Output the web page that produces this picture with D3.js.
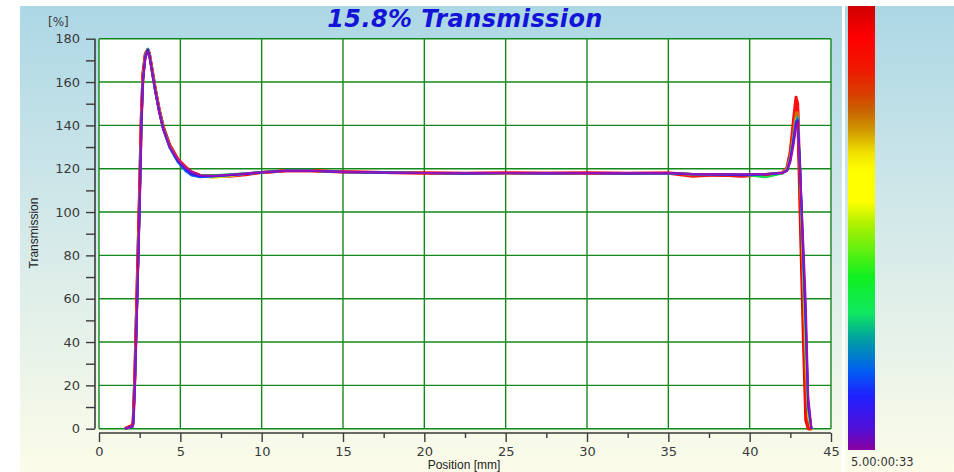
<!DOCTYPE html>
<html>
<head>
<meta charset="utf-8">
<script src="https://cdn.jsdelivr.net/npm/d3@7/dist/d3.min.js"></script>
<style>
  html, body { margin: 0; padding: 0; background: #ffffff; }
  svg { display: block; }
</style>
</head>
<body>
<svg id="chart" width="954" height="472"></svg>
<script>
// Measurement positions along the cell [mm]
const positions = [1.6, 2.05, 2.1, 2.2, 2.35, 2.5, 2.6, 2.7, 2.85, 3.0, 3.1, 3.25, 3.45, 3.7, 3.95, 4.35, 4.85, 5.3, 5.7, 6.2,
  7.0, 8.0, 9.0, 10.0, 11.5, 13.0, 15.0, 17.5, 20.0, 22.5, 25.0, 27.5, 30.0, 32.5, 35.0, 36.5, 38.0, 39.5, 41.0, 42.0,
  42.3, 42.5, 42.7, 42.85, 42.95, 43.1, 43.3, 43.45, 43.6, 43.8];

// Transmission profiles [%], one per scan, earliest first
const scan1 = [0, 1, 2, 18, 58, 102, 138, 160, 171, 174, 172, 165, 156, 146, 138, 130, 124, 120.5, 118.5, 117,
  116.8, 117.2, 117.8, 118.4, 119, 119, 118.5, 118.2, 118, 117.9, 118, 117.9, 118, 117.9, 118, 117.6, 117.5, 117.4, 117.6, 118,
  119, 123, 131, 139, 141, 120, 85, 58, 15, 0];
const scan2 = [0, 1, 2, 20, 60, 104, 140, 161, 172, 175, 172.5, 165.5, 156.5, 146.5, 138.5, 130, 123.5, 120, 117.5, 116.5,
  116.5, 117, 117.6, 118.3, 119, 119.1, 118.6, 118.2, 118, 117.8, 118, 117.8, 117.9, 117.8, 118, 117.4, 117.3, 117.2, 117.4, 118,
  119, 124, 133, 141, 142, 122, 80, 50, 12, 0];
const scan3 = [0, 1, 2, 19, 59, 103, 139, 160, 171, 174, 172, 165, 156, 146, 138, 129.5, 123, 119, 116.8, 116,
  116.4, 117, 117.6, 118.3, 119, 119, 118.4, 118.1, 118, 117.8, 117.9, 117.9, 118, 117.8, 117.9, 117.3, 117.4, 117, 117.5, 118,
  119.5, 124, 134, 142, 143, 118, 78, 48, 10, 0];
const scan4 = [0, 1, 2, 19, 59, 103, 139, 161, 172, 175, 172, 165, 156, 146.5, 138, 129.5, 123, 119.5, 117.5, 116.5,
  116.8, 117.3, 117.8, 118.5, 119, 119, 118.5, 118.2, 118, 117.9, 118, 117.9, 118, 117.9, 118, 117.6, 117.5, 117.2, 117.4, 118,
  119.5, 125, 135, 142, 144, 121, 76, 45, 10, 0];
const scan5 = [0, 1, 2, 19, 60, 104, 139, 161, 172, 175.5, 173, 166, 157, 147, 139, 130, 123.5, 120, 117.8, 117,
  117, 117.4, 117.9, 118.5, 119, 119.1, 118.5, 118.2, 118, 117.9, 118, 117.9, 118, 117.9, 118, 117.5, 117.6, 117.3, 116, 117.8,
  119, 124, 134, 141, 143, 122, 74, 40, 8, 0];
const scan6 = [0, 1, 2, 20, 61, 105, 140, 161, 172, 175, 172.5, 165.5, 156.5, 146.5, 138.5, 130, 124, 120, 118, 116.5,
  115.8, 116.5, 117.5, 118.3, 119, 119, 118.5, 118.2, 118, 117.8, 117.9, 117.8, 118, 117.8, 117.9, 117.5, 117.5, 117.3, 117.6, 118,
  120, 125, 135, 143, 144, 120, 70, 35, 6, 0];
const scan7 = [0, 1, 2, 20, 62, 106, 141, 162, 173, 175, 173, 166, 157, 147, 139, 130.5, 124, 120.5, 118.3, 117,
  116.5, 117, 117.6, 118.3, 119, 119, 118.5, 118.2, 118, 117.9, 118, 117.9, 118, 117.9, 118, 117, 117.3, 117.2, 117.5, 118,
  120, 126, 138, 146, 146, 116, 65, 25, 4, 0];
const scan8 = [0, 1.5, 3, 24, 68, 112, 144, 164, 173, 175, 173, 166.5, 157.5, 147.5, 139.5, 131, 124.5, 121, 118.5, 117,
  116.8, 116.5, 117.2, 118.3, 119, 119.1, 118.6, 118.2, 118, 117.8, 118, 117.9, 118, 117.8, 117.9, 116.5, 117.2, 116.5, 117.3, 118,
  120.5, 128, 143, 153, 150, 112, 60, 12, 0, 0];
const scan9 = [0, 1.5, 3, 23, 66, 110, 142, 163, 173, 175, 173, 166, 157, 147, 139, 130.5, 124, 120.5, 118.3, 117,
  116.8, 117, 117.6, 118.3, 119, 119, 118.5, 118.2, 118, 117.9, 118, 117.9, 118, 117.9, 118, 117.3, 117, 116.8, 117.2, 118,
  120, 127, 140, 150, 147, 100, 42, 4, 0, 0];

const scans = [scan1, scan2, scan3, scan4, scan5, scan6, scan7, scan8, scan9];
const scanColors = ["#9a10b8", "#3a10f0", "#0068f8", "#00a0a0", "#10e040", "#d8e000", "#d07000", "#ff1010", "#e00000"];

// Axis ticks
const xMajorTicks = [0, 5, 10, 15, 20, 25, 30, 35, 40, 45];
const xMinorTicks = [2.5, 7.5, 12.5, 17.5, 22.5, 27.5, 32.5, 37.5, 42.5];
const yTicks = [0, 10, 20, 30, 40, 50, 60, 70, 80, 90, 100, 110, 120, 130, 140, 150, 160, 170, 180];
const yLabelled = [0, 20, 40, 60, 80, 100, 120, 140, 160, 180];

// Time scale legend
const legendStops = [
  [0.00, "#d00000"], [0.07, "#ff0000"], [0.14, "#f01800"], [0.20, "#d84000"], [0.24, "#c86800"],
  [0.28, "#d09800"], [0.33, "#f0e000"], [0.37, "#ffff00"], [0.44, "#ffff00"], [0.49, "#b0f000"],
  [0.61, "#10f020"], [0.69, "#10e860"], [0.75, "#00a0a0"], [0.82, "#0060f0"], [0.88, "#2020ff"],
  [0.95, "#5010d8"], [1.00, "#8800a0"]
];
const legendLabel = "5.00:00:33";

const svg = d3.select("#chart");
const defs = svg.append("defs");

const bg = defs.append("linearGradient").attr("id", "panelBg")
  .attr("x1", 0).attr("y1", 0).attr("x2", 0).attr("y2", 1);
bg.append("stop").attr("offset", 0).attr("stop-color", "#acd7e5");
bg.append("stop").attr("offset", 0.5).attr("stop-color", "#d6eae9");
bg.append("stop").attr("offset", 1).attr("stop-color", "#fcfce9");

const cb = defs.append("linearGradient").attr("id", "timeScale")
  .attr("x1", 0).attr("y1", 0).attr("x2", 0).attr("y2", 1);
legendStops.forEach(([o, c]) => cb.append("stop").attr("offset", o).attr("stop-color", c));

// Panels
svg.append("rect").attr("x", 20).attr("y", 6).attr("width", 822).attr("height", 466).attr("fill", "url(#panelBg)");
svg.append("rect").attr("x", 845).attr("y", 6).attr("width", 109).attr("height", 466).attr("fill", "url(#panelBg)");

const x = d3.scaleLinear().domain([0, 45]).range([99, 831]);
const y = d3.scaleLinear().domain([0, 180]).range([428.7, 38.7]);

// Plot area
svg.append("rect").attr("x", x(0)).attr("y", y(180))
  .attr("width", x(45) - x(0)).attr("height", y(0) - y(180)).attr("fill", "#ffffff");

const grid = svg.append("g").attr("stroke", "#13881a").attr("stroke-width", 1.4);
grid.selectAll("line.v").data(xMajorTicks).join("line").attr("class", "v")
  .attr("x1", d => x(d)).attr("x2", d => x(d)).attr("y1", y(0)).attr("y2", y(180));
grid.selectAll("line.h").data(yLabelled).join("line").attr("class", "h")
  .attr("x1", x(0)).attr("x2", x(45)).attr("y1", d => y(d)).attr("y2", d => y(d));

// Scans: latest drawn first so the earliest scan sits on top
const line = d3.line().x(d => x(d[0])).y(d => y(d[1]));
const traces = svg.append("g").attr("fill", "none").attr("stroke-linejoin", "round");
scans.map((vals, i) => i).reverse().forEach(i => {
  traces.append("path")
    .datum(positions.map((p, j) => [p, scans[i][j]]))
    .attr("stroke", scanColors[i])
    .attr("stroke-width", i >= 7 ? 3 : 2)
    .attr("d", line);
});

// Axes
const axisFont = "'DejaVu Sans', sans-serif";
const yAxis = svg.append("g").attr("transform", "translate(95,0)")
  .call(d3.axisLeft(y).tickValues(yTicks).tickSize(9).tickSizeOuter(0).tickPadding(6)
    .tickFormat(d => yLabelled.includes(d) ? d : ""));
const xAxis = svg.append("g").attr("transform", "translate(0,433)")
  .call(d3.axisBottom(x).tickValues(xMajorTicks).tickSize(9).tickSizeOuter(0).tickPadding(5));
const xMinor = svg.append("g").attr("transform", "translate(0,433)")
  .call(d3.axisBottom(x).tickValues(xMinorTicks).tickSize(5).tickSizeOuter(0).tickFormat(""));
xMinor.select(".domain").remove();
[yAxis, xAxis, xMinor].forEach(g => {
  g.select(".domain").attr("stroke", "#3a3a3a").attr("stroke-width", 1.6);
  g.selectAll(".tick line").attr("stroke", "#3a3a3a").attr("stroke-width", 1.4);
  g.selectAll(".tick text").attr("font-family", axisFont).attr("font-size", 13).attr("fill", "#3a3a3a");
});
yAxis.select(".domain").attr("d", `M0,${y(180)}V${y(0)}`);
xAxis.select(".domain").attr("d", `M${x(0)},0H${x(45)}`);

// Labels
svg.append("text").attr("x", 465).attr("y", 27).attr("text-anchor", "middle")
  .attr("font-family", "'DejaVu Sans', sans-serif").attr("font-weight", "bold").attr("font-style", "italic")
  .attr("font-size", 24).attr("letter-spacing", 0.4).attr("fill", "#1414d8").text("15.8% Transmission");
svg.append("text").attr("x", 48).attr("y", 26)
  .attr("font-family", axisFont).attr("font-size", 12).attr("fill", "#3a3a3a").text("[%]");
svg.append("text").attr("transform", "translate(38,233) rotate(-90)").attr("text-anchor", "middle")
  .attr("font-family", "'Liberation Sans', Arial, sans-serif").attr("font-size", 12).attr("fill", "#222")
  .text("Transmission");
svg.append("text").attr("x", 464).attr("y", 469).attr("text-anchor", "middle")
  .attr("font-family", "'Liberation Sans', Arial, sans-serif").attr("font-size", 12).attr("fill", "#222")
  .text("Position [mm]");

// Time legend bar
svg.append("rect").attr("x", 848).attr("y", 6).attr("width", 27).attr("height", 444).attr("fill", "url(#timeScale)");
svg.append("text").attr("x", 851).attr("y", 466)
  .attr("font-family", axisFont).attr("font-size", 11.5).attr("fill", "#333").text(legendLabel);
</script>
</body>
</html>
